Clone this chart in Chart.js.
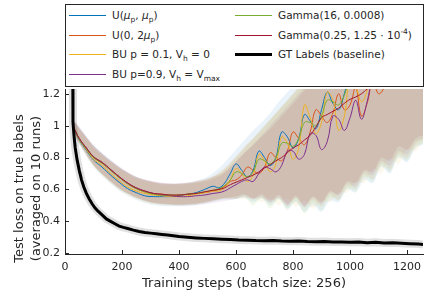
<!DOCTYPE html>
<html>
<head>
<meta charset="utf-8">
<script src="https://cdn.jsdelivr.net/npm/chart.js@4.4.0/dist/chart.umd.min.js"></script>
<style>
    html, body { margin: 0; padding: 0; background: #fff; }
    #wrap { position: relative; width: 437px; height: 297px; }
    #legend {
        position: absolute; left: 65px; top: 4px; width: 357px; height: 81px;
        border: 1px solid #262626; background: #fff;
        font: 10.5px "DejaVu Sans", sans-serif; color: #262626;
    }
    .item { position: absolute; white-space: nowrap; }
    .swatch { position: absolute; left: 0; width: 37px; }
    .txt { position: absolute; left: 43px; top: -7px; line-height: 14px; }
    sub { font-size: 7.5px; vertical-align: -3px; line-height: 0; }
    sup { font-size: 7.5px; vertical-align: 5px; line-height: 0; }
</style>
</head>
<body>
<div id="wrap">
    <canvas id="chart" width="437" height="297"></canvas>
    <div id="legend"></div>
</div>
<script>
// 图例文字与颜色
const seriesLabels = [
    'U(<i>μ</i><sub>p</sub>, <i>μ</i><sub>p</sub>)',
    'U(0, 2<i>μ</i><sub>p</sub>)',
    'BU p = 0.1, V<sub>h</sub> = 0',
    'BU p=0.9, V<sub>h</sub> = V<sub>max</sub>',
    'Gamma(16, 0.0008)',
    'Gamma(0.25, 1.25 · 10<sup>-4</sup>)'
];
const seriesColors = ['#0072BD', '#D95319', '#EDB120', '#7E2F8E', '#77AC30', '#A2142F'];
const bandColors = [
    'rgba(0,114,189,0.085)', 'rgba(217,83,25,0.085)', 'rgba(237,177,32,0.085)',
    'rgba(126,47,142,0.085)', 'rgba(119,172,48,0.085)', 'rgba(162,20,47,0.085)'
];
const gtLabel = 'GT Labels (baseline)';

const xTitle = 'Training steps (batch size: 256)';
const yTitle = ['Test loss on true labels', '(averaged on 10 runs)'];
const xTicks = [0, 200, 400, 600, 800, 1000, 1200];
const yTicks = [0.2, 0.4, 0.6, 0.8, 1, 1.2];

// 彩色曲线的横坐标
const steps = [30, 50, 75, 100, 130, 160, 190, 220, 250, 280, 310, 340, 370, 400, 430, 460, 490, 520,
    540, 560, 580, 600, 620, 640, 660, 680, 700, 720, 740, 760, 780, 800, 820, 840, 860, 880, 900, 920,
    940, 960, 980, 1000, 1020, 1040, 1060, 1080, 1100, 1120, 1140, 1160, 1200, 1256];

const meanU1 = [.99, .91, .845, .785, .74, .69, .645, .605, .58, .56, .555, .555, .555, .56, .57, .58, .60, .62,
    .61, .64, .70, .76, .72, .68, .72, .84, .80, .75, .80, .96, .93, .86, .92, 1.07, 1.03, .98, 1.10, 1.21,
    1.14, 1.10, 1.20, 1.32, 1.28, 1.25, 1.35, 1.45, 1.42, 1.45, 1.50, 1.55, 1.62, 1.72];
const meanU2 = [.99, .915, .855, .80, .765, .72, .675, .635, .605, .585, .575, .57, .565, .565, .57, .575, .58, .59,
    .60, .62, .65, .66, .69, .74, .72, .70, .74, .83, .80, .78, .84, .96, .92, .88, .96, 1.10, 1.06, 1.02,
    1.08, 1.20, 1.10, 1.13, 1.24, 1.06, 1.14, 1.28, 1.20, 1.24, 1.35, 1.45, 1.55, 1.65];
const meanBU1 = [.99, .915, .85, .79, .75, .70, .655, .615, .59, .575, .565, .56, .555, .555, .56, .57, .58, .59,
    .59, .61, .66, .73, .70, .65, .69, .82, .78, .71, .76, .93, .89, .79, .86, 1.13, 1.05, .95, 1.02, 1.21,
    1.16, .97, 1.06, 1.30, 1.25, 1.15, 1.22, 1.40, 1.38, 1.35, 1.42, 1.50, 1.60, 1.70];
const meanBU9 = [.99, .92, .86, .805, .77, .725, .68, .64, .61, .59, .575, .565, .56, .555, .555, .56, .565, .575,
    .58, .59, .61, .63, .65, .66, .65, .70, .74, .73, .71, .75, .84, .84, .79, .82, .95, .94, .85, .90,
    1.06, 1.04, .97, 1.05, 1.16, 1.04, 1.15, 1.30, 1.32, 1.28, 1.35, 1.45, 1.55, 1.65];
const meanG16 = [.99, .915, .855, .80, .765, .72, .675, .635, .605, .585, .57, .565, .565, .565, .57, .575, .585, .595,
    .605, .625, .66, .71, .70, .68, .71, .79, .78, .76, .80, .89, .89, .87, .92, 1.02, 1.02, 1.00, 1.06, 1.16,
    1.15, 1.13, 1.19, 1.30, 1.30, 1.28, 1.34, 1.45, 1.45, 1.45, 1.50, 1.55, 1.62, 1.72];
const meanG025 = [.99, .92, .86, .805, .77, .725, .68, .64, .61, .59, .575, .57, .565, .565, .57, .575, .585, .595,
    .60, .61, .63, .645, .66, .675, .69, .71, .735, .755, .78, .80, .83, .86, .88, .91, .94, .99, 1.05, 1.07,
    1.09, 1.11, 1.14, 1.165, 1.18, 1.20, 1.23, 1.26, 1.29, 1.32, 1.35, 1.38, 1.44, 1.52];

// 阴影带（标准差范围）
const bandSteps = [30, 60, 100, 150, 200, 250, 300, 350, 400, 450, 500, 550, 600, 630, 660, 690, 720, 750,
    780, 810, 840, 870, 900, 930, 960, 990, 1020, 1050, 1080, 1110, 1140, 1170, 1200, 1230, 1256];

const lowU1 = [.945, .85, .74, .65, .58, .535, .505, .495, .495, .50, .515, .535, .54, .55, .52, .545, .50, .54,
    .48, .52, .46, .50, .46, .53, .52, .60, .58, .66, .64, .74, .70, .80, .77, .86, .88];
const highU1 = [1.035, .97, .88, .80, .73, .68, .65, .635, .635, .65, .68, .75, .85, .91, .97, 1.02, 1.08, 1.15,
    1.21, 1.27, 1.33, 1.39, 1.45, 1.5, 1.55, 1.6, 1.65, 1.7, 1.75, 1.8, 1.85, 1.9, 1.95, 2.0, 2.05];
const lowU2 = [.95, .86, .75, .665, .595, .55, .52, .51, .505, .51, .525, .545, .55, .565, .535, .56, .515, .555,
    .495, .545, .485, .535, .495, .565, .535, .625, .605, .695, .665, .765, .725, .825, .795, .885, .91];
const highU2 = [1.03, .96, .87, .79, .725, .675, .65, .635, .635, .645, .665, .72, .81, .87, .92, .98, 1.04, 1.10,
    1.16, 1.22, 1.28, 1.34, 1.40, 1.45, 1.5, 1.55, 1.6, 1.65, 1.7, 1.75, 1.8, 1.85, 1.9, 1.95, 2.0];
const lowBU1 = [.95, .855, .745, .655, .585, .54, .51, .50, .50, .505, .52, .54, .545, .54, .55, .52, .55, .50,
    .545, .49, .53, .48, .53, .52, .58, .58, .65, .64, .73, .70, .80, .76, .85, .84, .90];
const highBU1 = [1.03, .955, .865, .785, .72, .67, .645, .63, .63, .64, .66, .71, .80, .86, .92, .97, 1.03, 1.09,
    1.15, 1.21, 1.27, 1.33, 1.39, 1.45, 1.5, 1.55, 1.6, 1.65, 1.7, 1.75, 1.8, 1.85, 1.9, 1.95, 2.0];
const lowBU9 = [.955, .865, .755, .665, .595, .55, .52, .505, .50, .50, .51, .525, .54, .555, .54, .55, .52, .55,
    .50, .55, .49, .55, .51, .58, .56, .64, .62, .71, .69, .78, .75, .84, .82, .90, .92];
const highBU9 = [1.035, .965, .875, .795, .73, .68, .655, .64, .635, .64, .655, .69, .77, .83, .88, .94, 1.0, 1.06,
    1.12, 1.18, 1.24, 1.3, 1.36, 1.42, 1.48, 1.54, 1.6, 1.66, 1.72, 1.78, 1.84, 1.9, 1.96, 2.0, 2.05];
const lowG16 = [.95, .86, .75, .66, .59, .545, .515, .505, .50, .505, .52, .54, .54, .55, .50, .545, .48, .54,
    .47, .53, .45, .52, .47, .55, .53, .61, .59, .68, .65, .75, .71, .81, .78, .87, .89];
const highG16 = [1.03, .96, .87, .79, .725, .675, .65, .635, .635, .645, .665, .71, .80, .86, .92, .98, 1.04, 1.10,
    1.16, 1.22, 1.28, 1.34, 1.40, 1.46, 1.52, 1.58, 1.64, 1.70, 1.76, 1.82, 1.88, 1.94, 2.0, 2.05, 2.1];
const lowG025 = [.955, .865, .755, .665, .595, .55, .52, .51, .505, .51, .525, .545, .555, .57, .545, .57, .53, .565,
    .51, .56, .50, .555, .52, .59, .57, .65, .64, .72, .71, .80, .78, .87, .85, .92, .94];
const highG025 = [1.035, .965, .875, .795, .73, .68, .655, .64, .64, .65, .67, .70, .78, .83, .88, .93, .98, 1.04,
    1.10, 1.16, 1.22, 1.28, 1.34, 1.40, 1.46, 1.52, 1.58, 1.64, 1.70, 1.76, 1.82, 1.88, 1.94, 2.0, 2.05];

// 基线（GT 标签）
const gtSteps = [25, 28, 32, 36, 42, 50, 58, 66, 75, 85, 95, 105, 115, 130, 145, 160, 175, 190, 205, 220,
    240, 260, 280, 300, 320, 340, 360, 380, 400, 430, 460, 490, 520, 550, 580, 610, 640, 670, 700, 730,
    760, 790, 820, 850, 880, 910, 940, 970, 1000, 1030, 1060, 1090, 1120, 1150, 1180, 1210, 1240, 1256];
const gtLoss = [2.4, 1.02, .93, .86, .79, .72, .66, .615, .575, .54, .51, .485, .465, .44, .415, .40, .385, .37, .362, .355,
    .345, .336, .33, .326, .322, .318, .314, .31, .305, .30, .296, .293, .29, .288, .286, .283, .282, .279, .278, .28,
    .276, .275, .277, .273, .272, .274, .27, .271, .268, .27, .266, .268, .264, .265, .262, .26, .257, .255];

const means = [meanU1, meanU2, meanBU1, meanBU9, meanG16, meanG025];
const lows = [lowU1, lowU2, lowBU1, lowBU9, lowG16, lowG025];
const highs = [highU1, highU2, highBU1, highBU9, highG16, highG025];

function toPoints(xs, ys) {
    return xs.map((x, i) => ({ x: x, y: ys[i] }));
}

// 组装数据集：先画阴影，再画曲线
const datasets = [];
means.forEach((m, i) => {
    datasets.push({
        data: toPoints(bandSteps, lows[i]),
        borderWidth: 0, pointRadius: 0, fill: false, tension: 0.3,
        order: 30 - i
    });
    datasets.push({
        data: toPoints(bandSteps, highs[i]),
        borderWidth: 0, pointRadius: 0, fill: '-1', tension: 0.3,
        backgroundColor: bandColors[i],
        order: 30 - i
    });
});
means.forEach((m, i) => {
    datasets.push({
        data: toPoints(steps, m),
        borderColor: seriesColors[i], borderWidth: 1,
        pointRadius: 0, fill: false, tension: 0.4,
        order: 10 - i
    });
});
datasets.push({
    data: toPoints(gtSteps, gtLoss),
    borderColor: 'rgba(0,0,0,0.12)', borderWidth: 8,
    pointRadius: 0, fill: false, tension: 0, order: 1
});
datasets.push({
    data: toPoints(gtSteps, gtLoss),
    borderColor: '#000', borderWidth: 3,
    pointRadius: 0, fill: false, tension: 0, order: 0
});

// 向内的刻度线
const inwardTicks = {
    id: 'inwardTicks',
    afterDraw(chart) {
        const ctx = chart.ctx;
        const area = chart.chartArea;
        ctx.save();
        ctx.strokeStyle = '#262626';
        ctx.lineWidth = 1;
        xTicks.forEach(v => {
            const px = Math.round(chart.scales.x.getPixelForValue(v)) + 0.5;
            ctx.beginPath();
            ctx.moveTo(px, area.bottom);
            ctx.lineTo(px, area.bottom - 4);
            ctx.stroke();
        });
        yTicks.forEach(v => {
            const py = Math.round(chart.scales.y.getPixelForValue(v)) + 0.5;
            ctx.beginPath();
            ctx.moveTo(area.left, py);
            ctx.lineTo(area.left + 4, py);
            ctx.stroke();
        });
        ctx.restore();
    }
};

// 纵轴标题（两行）
const yTitlePlugin = {
    id: 'yTitle',
    afterDraw(chart) {
        const ctx = chart.ctx;
        const area = chart.chartArea;
        const mid = (area.top + area.bottom) / 2 + 17;
        ctx.save();
        ctx.translate(20, mid);
        ctx.rotate(-Math.PI / 2);
        ctx.fillStyle = '#262626';
        ctx.font = '13px "DejaVu Sans"';
        ctx.textAlign = 'center';
        ctx.textBaseline = 'middle';
        ctx.fillText(yTitle[0], 0, 0);
        ctx.fillText(yTitle[1], 0, 17);
        ctx.restore();
    }
};

const ctx = document.getElementById('chart').getContext('2d');
new Chart(ctx, {
    type: 'line',
    data: { datasets: datasets },
    options: {
        responsive: false,
        devicePixelRatio: 1,
        animation: false,
        layout: { padding: { top: 89, right: 14, left: 0, bottom: 0 } },
        plugins: {
            legend: { display: false },
            tooltip: { enabled: false }
        },
        scales: {
            x: {
                type: 'linear', min: 0, max: 1256,
                grid: { display: false, drawTicks: false },
                border: { display: true, color: '#262626', width: 1 },
                ticks: {
                    stepSize: 200, includeBounds: false, padding: 7,
                    color: '#262626', font: { family: 'DejaVu Sans', size: 11 },
                    maxRotation: 0, autoSkip: false,
                    callback: v => String(v)
                },
                title: {
                    display: true, text: xTitle, color: '#262626',
                    font: { family: 'DejaVu Sans', size: 13 },
                    padding: { top: 0, bottom: 6 }
                },
                afterFit: s => { s.height = 43; }
            },
            y: {
                type: 'linear', min: 0.195, max: 1.23,
                grid: { display: false, drawTicks: false },
                border: { display: true, color: '#262626', width: 1 },
                ticks: {
                    stepSize: 0.2, includeBounds: false, padding: 5,
                    color: '#262626', font: { family: 'DejaVu Sans', size: 11 },
                    callback: v => String(Number(v.toFixed(1)))
                },
                afterFit: s => { s.width = 65; }
            }
        }
    },
    plugins: [inwardTicks, yTitlePlugin]
});

// HTML 图例（支持下标）
const legendPos = [[3, 10], [3, 30], [3, 49], [3, 69], [169, 10], [169, 30], [169, 49]];
const legend = document.getElementById('legend');
const entries = seriesLabels.map((t, i) => ({ text: t, color: seriesColors[i], width: 1 }));
entries.push({ text: gtLabel, color: '#000', width: 3 });
entries.forEach((e, i) => {
    const item = document.createElement('div');
    item.className = 'item';
    item.style.left = legendPos[i][0] + 'px';
    item.style.top = legendPos[i][1] + 'px';
    const sw = document.createElement('div');
    sw.className = 'swatch';
    sw.style.top = (-Math.floor(e.width / 2)) + 'px';
    sw.style.height = e.width + 'px';
    sw.style.background = e.color;
    const tx = document.createElement('div');
    tx.className = 'txt';
    tx.innerHTML = e.text;
    item.appendChild(sw);
    item.appendChild(tx);
    legend.appendChild(item);
});
</script>
</body>
</html>
